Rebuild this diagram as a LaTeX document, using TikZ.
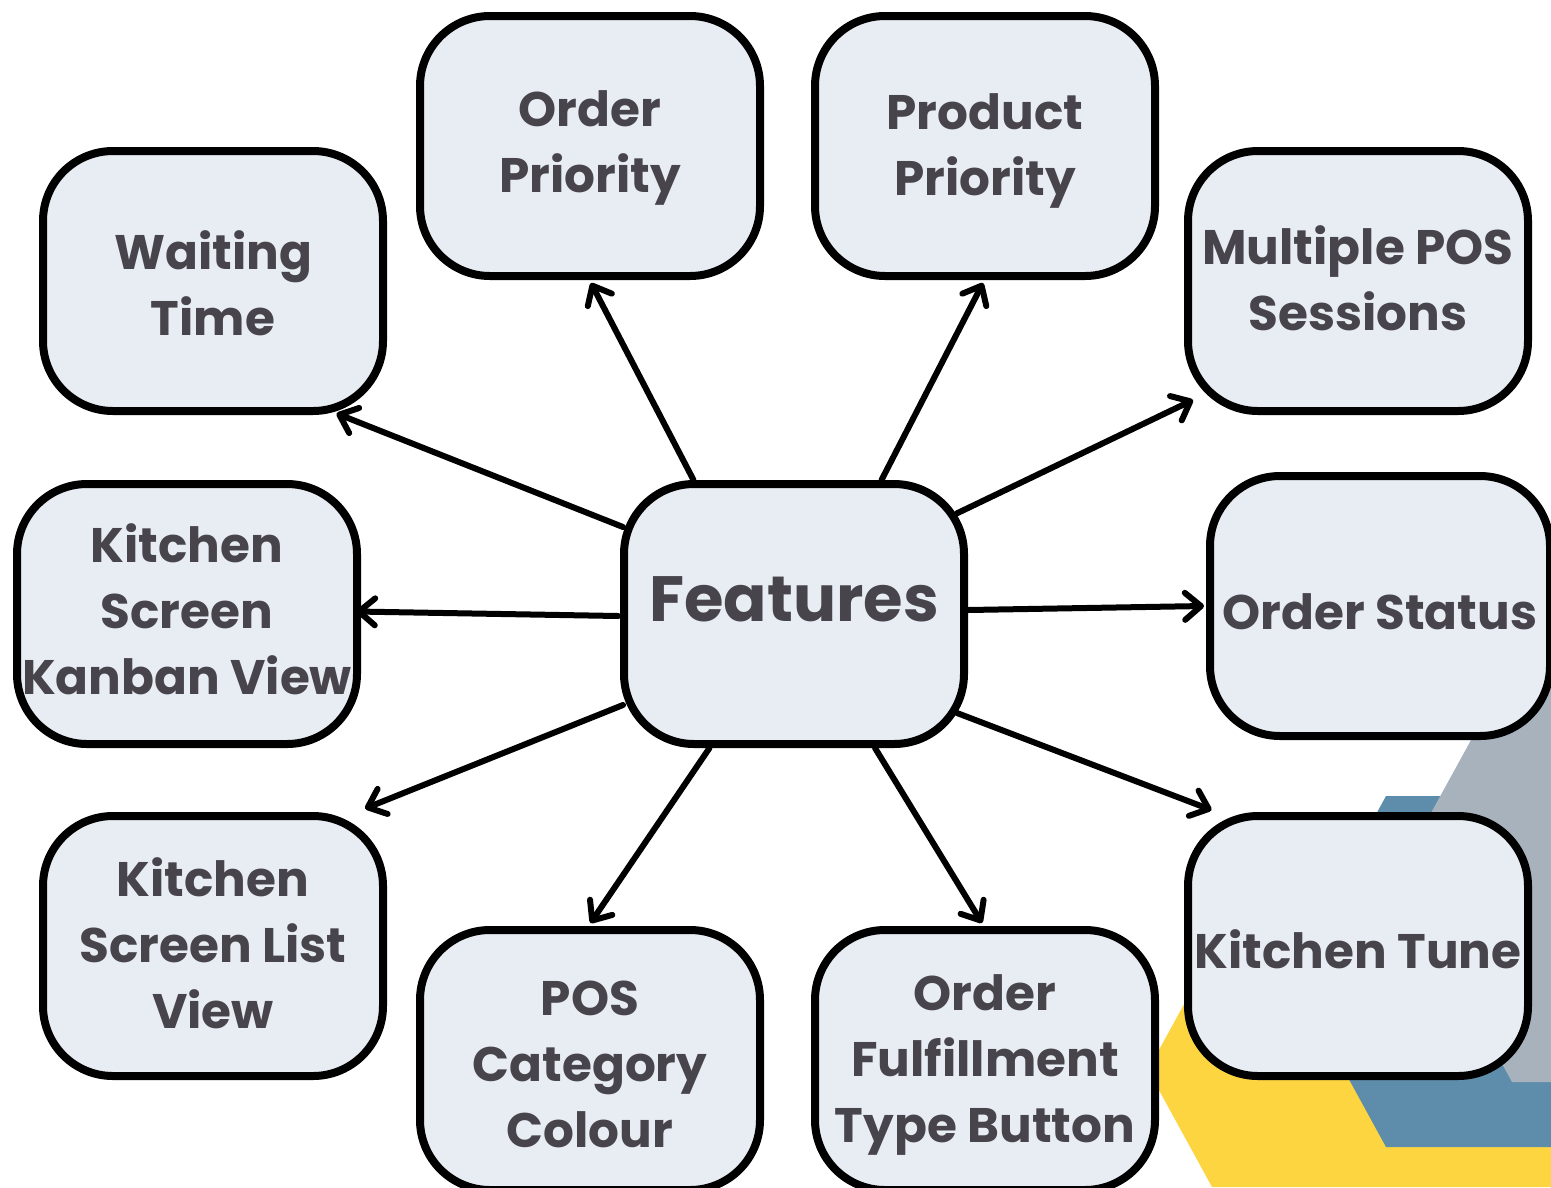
\documentclass[tikz,border=0pt]{standalone}
\usepackage{fontspec}
\setmainfont{Poppins}[BoldFont={* Bold}]
\usetikzlibrary{arrows.meta}
\definecolor{boxfill}{HTML}{E8EDF4}
\definecolor{txt}{HTML}{48444C}
\definecolor{hexgray}{HTML}{A8B2BD}
\definecolor{hexblue}{HTML}{5E8CAB}
\definecolor{hexyellow}{HTML}{FDD541}
\begin{document}
\begin{tikzpicture}[x=1pt,y=1pt,
  box/.style={draw=black, fill=boxfill, line width=8pt, rounded corners=70pt,
    minimum width=340pt, minimum height=260pt, inner sep=0pt, align=center,
    text=txt, font=\fontsize{48.5}{66}\selectfont\bfseries, text depth=0pt},
  th/.style={text height=#1},
  bigbox/.style={box, font=\fontsize{64}{70}\selectfont\bfseries},
  arr/.style={line width=6pt, line cap=round, -{Straight Barb[length=16pt, width=27pt, round]}}]
\useasboundingbox (0,0) rectangle (1551,-1187);
\fill[white] (0,0) rectangle (1551,-1187);
% background hexagons
\fill[hexyellow] (1148,-1070) -- (1241,-900) -- (1551,-900) -- (1551,-1187) -- (1212,-1187) -- cycle;
\fill[hexblue] (1290,-971.5) -- (1386,-796) -- (1551,-796) -- (1551,-1147) -- (1386,-1147) -- cycle;
\fill[hexgray] (1398,-873) -- (1504,-680) -- (1551,-680) -- (1551,-1082) -- (1512,-1082) -- cycle;
% nodes
\node[box, th=92pt] (op) at (590,-146) {Order\\Priority};
\node[box, th=98pt] (pp) at (985,-146) {Product\\Priority};
\node[box, th=108pt] (wt) at (213,-281) {Waiting\\Time};
\node[box, th=98pt] (mp) at (1358,-281) {Multiple POS\\Sessions};
\node[box, th=160pt] (kk) at (187,-614) {Kitchen\\Screen\\Kanban View};
\node[bigbox, th=14pt] (feat) at (794,-614) {Features};
\node[box, th=46pt] (os) at (1380,-606) {Order Status};
\node[box, th=164pt] (lv) at (213,-946) {Kitchen\\Screen List\\View};
\node[box, th=44pt] (kt) at (1358,-946) {Kitchen Tune};
\node[box, th=174pt] (pc) at (590,-1060) {POS\\Category\\Colour};
\node[box, th=164pt] (of) at (985,-1060) {Order\\Fulfillment\\Type Button};
% connectors
\draw[arr] ([shift={(-100.5,134)}]feat.center) -- ([shift={(1,-137)}]op.center);
\draw[arr] ([shift={(87.5,134)}]feat.center) -- ([shift={(-2,-137)}]pp.center);
\draw[arr] ([shift={(-171,87)}]feat.center) -- ([shift={(123.5,-132.5)}]wt.center);
\draw[arr] ([shift={(163,100.7)}]feat.center) -- ([shift={(-165,-119)}]mp.center);
\draw[arr] ([shift={(-175.7,-2)}]feat.center) -- ([shift={(169,2.5)}]kk.center);
\draw[arr] ([shift={(174.3,4)}]feat.center) -- ([shift={(-176,0)}]os.center);
\draw[arr] ([shift={(-171,-91)}]feat.center) -- ([shift={(152,137.5)}]lv.center);
\draw[arr] ([shift={(163,-99)}]feat.center) -- ([shift={(-146.5,136)}]kt.center);
\draw[arr] ([shift={(-84.5,-134)}]feat.center) -- ([shift={(0.5,137)}]pc.center);
\draw[arr] ([shift={(81,-134)}]feat.center) -- ([shift={(-3,137)}]of.center);
\end{tikzpicture}
\end{document}
